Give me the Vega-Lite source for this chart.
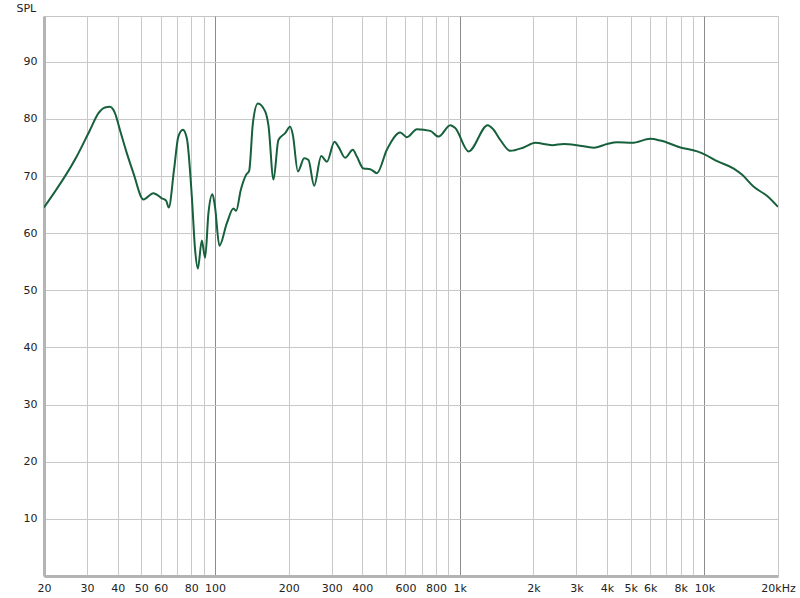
{
  "$schema": "https://vega.github.io/schema/vega-lite/v6.json",
  "width": 734,
  "height": 560,
  "autosize": {"type": "none"},
  "padding": {"left": 44, "top": 16, "right": 22, "bottom": 22},
  "background": "white",
  "config": {
    "view": {"stroke": "#c4c4c4", "strokeWidth": 1},
    "axis": {"labelFont": "DejaVu Sans", "labelFontSize": 11, "labelColor": "#222222", "ticks": false, "domainColor": "#b4b4b4", "domainWidth": 3}
  },
  "data": {"values": [
    {"f": 20, "db": 64.5},
    {"f": 27.2, "db": 73.4},
    {"f": 30.8, "db": 78.0},
    {"f": 33.4, "db": 81.0},
    {"f": 35.5, "db": 82.0},
    {"f": 37.2, "db": 82.1},
    {"f": 39.0, "db": 81.0},
    {"f": 40.9, "db": 78.0},
    {"f": 43.6, "db": 74.0},
    {"f": 46.4, "db": 70.5},
    {"f": 51.0, "db": 65.9},
    {"f": 56.0, "db": 67.0},
    {"f": 60.6, "db": 66.1},
    {"f": 63.1, "db": 65.7},
    {"f": 64.7, "db": 64.5},
    {"f": 68.0, "db": 71.1},
    {"f": 70.8, "db": 76.9},
    {"f": 73.9, "db": 78.1},
    {"f": 76.7, "db": 76.6},
    {"f": 80.4, "db": 66.4},
    {"f": 82.9, "db": 57.1},
    {"f": 85.1, "db": 53.8},
    {"f": 88.3, "db": 58.7},
    {"f": 91.1, "db": 55.7},
    {"f": 94.0, "db": 63.5},
    {"f": 97.6, "db": 66.8},
    {"f": 100, "db": 64.6},
    {"f": 104.2, "db": 57.8},
    {"f": 111.7, "db": 61.7},
    {"f": 118.9, "db": 64.3},
    {"f": 122, "db": 63.9},
    {"f": 127.5, "db": 67.6},
    {"f": 134, "db": 70.2},
    {"f": 137.9, "db": 70.9},
    {"f": 142.8, "db": 79.2},
    {"f": 149.6, "db": 82.7},
    {"f": 160.3, "db": 81.3},
    {"f": 165.4, "db": 78.8},
    {"f": 173.4, "db": 69.4},
    {"f": 181.6, "db": 76.3},
    {"f": 193.5, "db": 77.5},
    {"f": 202.8, "db": 78.6},
    {"f": 208, "db": 77.2},
    {"f": 218.1, "db": 70.8},
    {"f": 231.5, "db": 73.1},
    {"f": 241, "db": 72.8},
    {"f": 254.2, "db": 68.3},
    {"f": 271.7, "db": 73.5},
    {"f": 286.6, "db": 72.5},
    {"f": 307.9, "db": 76.0},
    {"f": 319.7, "db": 75.1},
    {"f": 340.4, "db": 73.2},
    {"f": 366, "db": 74.6},
    {"f": 380, "db": 73.4},
    {"f": 404.5, "db": 71.3},
    {"f": 430.9, "db": 71.2},
    {"f": 459, "db": 70.5},
    {"f": 504, "db": 74.6},
    {"f": 571.6, "db": 77.6},
    {"f": 608.9, "db": 76.8},
    {"f": 668.9, "db": 78.2},
    {"f": 758, "db": 77.9},
    {"f": 820, "db": 76.9},
    {"f": 915.6, "db": 78.9},
    {"f": 959, "db": 78.4},
    {"f": 1088, "db": 74.3},
    {"f": 1301, "db": 78.9},
    {"f": 1376, "db": 78.1},
    {"f": 1466, "db": 76.3},
    {"f": 1610, "db": 74.4},
    {"f": 1825, "db": 75.0},
    {"f": 2038, "db": 75.8},
    {"f": 2386, "db": 75.4},
    {"f": 2661, "db": 75.6},
    {"f": 3018, "db": 75.4},
    {"f": 3529, "db": 74.95},
    {"f": 4003, "db": 75.6},
    {"f": 4399, "db": 75.9},
    {"f": 5066, "db": 75.8},
    {"f": 6021, "db": 76.5},
    {"f": 6614, "db": 76.2},
    {"f": 7985, "db": 75.0},
    {"f": 9350, "db": 74.3},
    {"f": 10108, "db": 73.7},
    {"f": 11280, "db": 72.6},
    {"f": 13190, "db": 71.3},
    {"f": 14280, "db": 70.2},
    {"f": 15920, "db": 68.1},
    {"f": 18070, "db": 66.5},
    {"f": 20000, "db": 64.6}
  ]},
  "mark": {"type": "line", "color": "#17603c", "strokeWidth": 2, "interpolate": "monotone", "clip": true},
  "encoding": {
    "x": {
      "field": "f", "type": "quantitative",
      "scale": {"type": "log", "domain": [20, 20000], "nice": false},
      "axis": {
        "title": null,
        "values": [20, 30, 40, 50, 60, 70, 80, 90, 100, 200, 300, 400, 500, 600, 700, 800, 900, 1000, 2000, 3000, 4000, 5000, 6000, 7000, 8000, 9000, 10000, 20000],
        "labelExpr": "indexof([70,90,500,700,900,7000,9000], datum.value) >= 0 ? '' : datum.value == 20000 ? '20kHz' : datum.value >= 1000 ? (datum.value/1000) + 'k' : '' + datum.value",
        "labelOverlap": false,
        "labelBound": false,
        "labelFlush": false,
        "labelPadding": 6,
        "grid": true,
        "gridColor": {"condition": {"test": "datum.value == 100 || datum.value == 1000 || datum.value == 10000", "value": "#8c8c8c"}, "value": "#c8c8c8"},
        "gridWidth": 1
      }
    },
    "y": {
      "field": "db", "type": "quantitative",
      "scale": {"domain": [0, 98], "nice": false, "zero": false},
      "axis": {
        "title": "SPL",
        "titleAngle": 0,
        "titleX": -28,
        "titleY": -8,
        "titleAlign": "left",
        "titleBaseline": "middle",
        "titleFont": "DejaVu Sans",
        "titleFontSize": 11,
        "titleFontWeight": "normal",
        "titleColor": "#222222",
        "values": [10, 20, 30, 40, 50, 60, 70, 80, 90],
        "labelPadding": 7,
        "grid": true,
        "gridColor": "#c8c8c8",
        "gridWidth": 1
      }
    }
  }
}
